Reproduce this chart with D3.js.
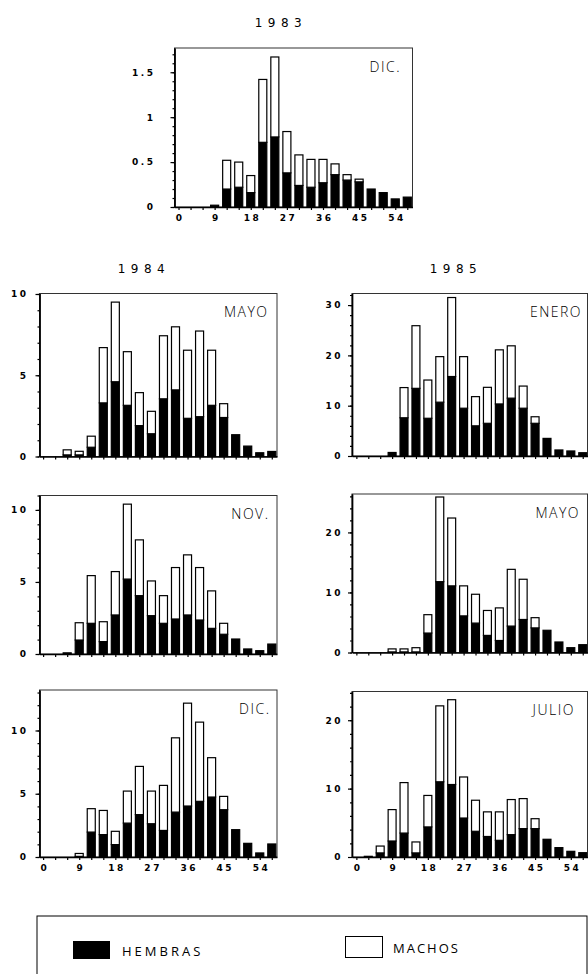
<!DOCTYPE html>
<html>
<head>
<meta charset="utf-8">
<script src="https://cdnjs.cloudflare.com/ajax/libs/d3/7.8.5/d3.min.js"></script>
<style>
body { margin: 0; background: #fff; }
svg { display: block; }
</style>
</head>
<body>
<div class="d3-visualize"></div>
<script>
// clases de talla (cada 3), etiquetas del eje x
var clases = [0, 3, 6, 9, 12, 15, 18, 21, 24, 27, 30, 33, 36, 39, 42, 45, 48, 51, 54, 57];
var xTickLabels = [0, 9, 18, 27, 36, 45, 54];

// 1983 DIC.
var dic83Hembras = [0, 0, 0, 0.02, 0.20, 0.22, 0.16, 0.72, 0.78, 0.38, 0.24, 0.22, 0.27, 0.36, 0.30, 0.28, 0.20, 0.16, 0.09, 0.11];
var dic83Machos  = [0, 0, 0, 0, 0.32, 0.28, 0.19, 0.70, 0.89, 0.46, 0.34, 0.31, 0.26, 0.12, 0.06, 0.03, 0, 0, 0, 0];

// 1984
var mayo84Hembras = [0, 0, 0.1, 0.1, 0.57, 3.3, 4.6, 3.15, 1.9, 1.4, 3.55, 4.1, 2.35, 2.45, 3.15, 2.4, 1.34, 0.64, 0.23, 0.31];
var mayo84Machos  = [0, 0, 0.31, 0.22, 0.68, 3.4, 4.9, 3.3, 2.03, 1.38, 3.88, 3.88, 4.19, 5.27, 3.39, 0.85, 0, 0, 0, 0];
var nov84Hembras  = [0, 0, 0.08, 0.97, 2.13, 0.86, 2.71, 5.2, 4.05, 2.66, 2.13, 2.43, 2.71, 2.36, 1.78, 1.37, 1.04, 0.35, 0.23, 0.69];
var nov84Machos   = [0, 0, 0, 1.2, 3.31, 1.38, 3.01, 5.2, 3.87, 2.41, 1.92, 3.57, 4.17, 3.64, 2.6, 0.76, 0, 0, 0, 0];
var dic84Hembras  = [0, 0, 0, 0.05, 1.97, 1.77, 0.98, 2.68, 3.35, 2.63, 2.1, 3.55, 4.03, 4.4, 4.74, 3.74, 2.16, 1.08, 0.32, 1.03];
var dic84Machos   = [0, 0, 0, 0.23, 1.85, 1.91, 1.05, 2.53, 3.81, 2.58, 3.56, 5.87, 8.13, 6.26, 3.11, 1.05, 0, 0, 0, 0];

// 1985
var enero85Hembras = [0, 0, 0, 0.7, 7.6, 13.45, 7.5, 10.7, 15.8, 9.5, 6.0, 6.5, 10.35, 11.5, 9.5, 6.5, 3.5, 1.2, 1.0, 0.65];
var enero85Machos  = [0, 0, 0, 0, 6.0, 12.45, 7.6, 9.05, 15.7, 10.25, 5.8, 7.15, 10.75, 10.4, 4.4, 1.3, 0, 0, 0, 0];
var mayo85Hembras  = [0, 0, 0, 0.1, 0.1, 0.1, 3.24, 11.8, 11.1, 6.1, 4.9, 2.85, 2.0, 4.4, 5.5, 4.1, 3.7, 1.75, 0.8, 1.3];
var mayo85Machos   = [0, 0, 0, 0.5, 0.5, 0.7, 3.06, 14.1, 11.3, 5.0, 4.8, 4.15, 5.43, 9.45, 6.7, 1.7, 0, 0, 0, 0];
var julio85Hembras = [0, 0.1, 0.6, 2.34, 3.5, 0.6, 4.4, 11.0, 10.6, 5.7, 3.76, 3.0, 2.44, 3.27, 4.15, 4.15, 2.59, 1.37, 0.83, 0.63];
var julio85Machos  = [0, 0, 1.0, 4.59, 7.38, 1.6, 4.6, 11.1, 12.4, 6.0, 4.54, 3.6, 4.16, 5.13, 4.39, 1.45, 0, 0, 0, 0];

var width = 588,
    height = 974,
    tickFont = "DejaVu Sans, sans-serif",
    textFont = "Open Sans, DejaVu Sans, sans-serif";

var svg = d3.select('.d3-visualize').append('svg')
    .attr('width', width)
    .attr('height', height)
    .style('background', '#fff');

// layout of each panel
var left = { x0: 39.5, x1: 277, dom: [-0.9, 58.3], pad: 7 },
    right = { x0: 352, x1: 587.5, dom: [-1.1, 58.2], pad: 5 };

var panels = [
    { h: dic83Hembras, m: dic83Machos, mes: "DIC.", x0: 174.5, x1: 412.5, dom: [-1, 58.3], top: 48, zero: 207, yMax: 1.77,
      major: [0, 0.5, 1, 1.5], minor: 0.1, pad: 15, labDx: 13, xLabels: true },
    { h: mayo84Hembras, m: mayo84Machos, mes: "MAYO", col: left, top: 293.5, zero: 456.5, yMax: 10.03, major: [0, 5, 10], minor: 1, labDx: 10 },
    { h: nov84Hembras, m: nov84Machos, mes: "NOV.", col: left, top: 495.5, zero: 654, yMax: 11.0, major: [0, 5, 10], minor: 1, labDx: 9 },
    { h: dic84Hembras, m: dic84Machos, mes: "DIC.", col: left, top: 690, zero: 857, yMax: 13.2, major: [0, 5, 10], minor: 1, labDx: 8, xLabels: true },
    { h: enero85Hembras, m: enero85Machos, mes: "ENERO", col: right, top: 293.5, zero: 456, yMax: 32.3, major: [0, 10, 20, 30], minor: 2, labDx: 7 },
    { h: mayo85Hembras, m: mayo85Machos, mes: "MAYO", col: right, top: 494, zero: 652.5, yMax: 26.4, major: [0, 10, 20], minor: 2, labDx: 9 },
    { h: julio85Hembras, m: julio85Machos, mes: "JULIO", col: right, top: 691.5, zero: 857, yMax: 24.2, major: [0, 10, 20], minor: 2, labDx: 14, xLabels: true }
];

function drawPanel(p)
{
    var c = p.col || p,
        x = d3.scaleLinear().domain(c.dom).range([c.x0, c.x1]),
        y = d3.scaleLinear().domain([0, p.yMax]).range([p.zero, p.top]),
        g = svg.append('g');

    var rows = clases.map(function (cl, i) {
        return { clase: cl, hembras: p.h[i], machos: p.m[i] };
    });
    var series = d3.stack().keys(["hembras", "machos"])(rows);

    // frame
    g.append('rect')
        .attr('x', c.x0).attr('y', p.top)
        .attr('width', c.x1 - c.x0).attr('height', p.zero - p.top)
        .attr('fill', 'none').attr('stroke', '#333').attr('stroke-width', 1);

    var bw = x(2) - x(0);
    g.selectAll('g.serie').data(series)
      .enter().append('g')
        .attr('class', 'serie')
        .attr('fill', function (s) { return s.key == "hembras" ? "#000" : "#fff"; })
      .selectAll('rect').data(function (s) {
            return s.filter(function (d) { return d[1] - d[0] > 0; });
        })
      .enter().append('rect')
        .attr('x', function (d) { return x(d.data.clase) - bw / 2; })
        .attr('y', function (d) { return y(d[1]); })
        .attr('width', bw)
        .attr('height', function (d) { return y(d[0]) - y(d[1]); })
        .attr('stroke', '#000')
        .attr('stroke-width', 1.2);

    // x axis
    var xAxis = d3.axisBottom(x)
        .tickValues(clases)
        .tickSize(3)
        .tickSizeOuter(0)
        .tickPadding(5)
        .tickFormat(function (d) {
            return (p.xLabels && xTickLabels.indexOf(d) >= 0) ? d : "";
        });
    var gx = g.append('g').attr('transform', 'translate(0,' + p.zero + ')').call(xAxis);

    // y axis: minor and major ticks
    var minorTicks = d3.range(0, p.yMax + 1e-9, p.minor);
    var gyMinor = g.append('g').attr('transform', 'translate(' + c.x0 + ',0)')
        .call(d3.axisLeft(y).tickValues(minorTicks).tickSize(2).tickSizeOuter(0).tickFormat(""));
    var gy = g.append('g').attr('transform', 'translate(' + c.x0 + ',0)')
        .call(d3.axisLeft(y).tickValues(p.major).tickSize(4).tickSizeOuter(0).tickPadding(c.pad)
            .tickFormat(function (d) { return String(d); }));

    [gx, gy, gyMinor].forEach(function (ax) {
        ax.select('.domain').attr('stroke', '#000').attr('stroke-width', 1.4);
        ax.selectAll('.tick line').attr('stroke', '#000').attr('stroke-width', 1.2);
        ax.selectAll('text')
            .attr('font-family', tickFont)
            .attr('font-weight', 'bold')
            .attr('font-size', 9)
            .style('letter-spacing', '2.5px')
            .attr('fill', '#000');
    });
    gx.selectAll('text').attr('dx', '1.2px');

    // month label
    g.append('text')
        .attr('x', c.x1 - p.labDx + 1.5)
        .attr('y', p.top + 23.5)
        .attr('text-anchor', 'end')
        .attr('font-family', textFont)
        .attr('font-weight', 300)
        .attr('font-size', 14)
        .attr('fill', '#000')
        .style('letter-spacing', '1.5px')
        .text(p.mes);
}

panels.forEach(drawPanel);

// year titles
var years = [["1983", 281, 27], ["1984", 144, 273], ["1985", 456, 273]];
svg.selectAll('text.year').data(years)
  .enter().append('text')
    .attr('class', 'year')
    .attr('x', function (d) { return d[1]; })
    .attr('y', function (d) { return d[2]; })
    .attr('text-anchor', 'middle')
    .attr('font-family', tickFont)
    .attr('font-size', 12)
    .style('letter-spacing', '5.5px')
    .text(function (d) { return d[0]; });

// legend
var legend = svg.append('g');
legend.append('rect')
    .attr('x', 37).attr('y', 916).attr('width', 550).attr('height', 100)
    .attr('fill', 'none').attr('stroke', '#000').attr('stroke-width', 1);
legend.append('rect')
    .attr('x', 73).attr('y', 941).attr('width', 37).attr('height', 18)
    .attr('fill', '#000');
legend.append('rect')
    .attr('x', 345.5).attr('y', 936.5).attr('width', 37).attr('height', 21)
    .attr('fill', '#fff').attr('stroke', '#000').attr('stroke-width', 1);
legend.append('text')
    .attr('x', 122).attr('y', 956)
    .attr('font-family', textFont).attr('font-weight', 400).attr('font-size', 13)
    .style('letter-spacing', '3px')
    .text("HEMBRAS");
legend.append('text')
    .attr('x', 393).attr('y', 953)
    .attr('font-family', textFont).attr('font-weight', 400).attr('font-size', 13)
    .style('letter-spacing', '2px')
    .text("MACHOS");
</script>
</body>
</html>
